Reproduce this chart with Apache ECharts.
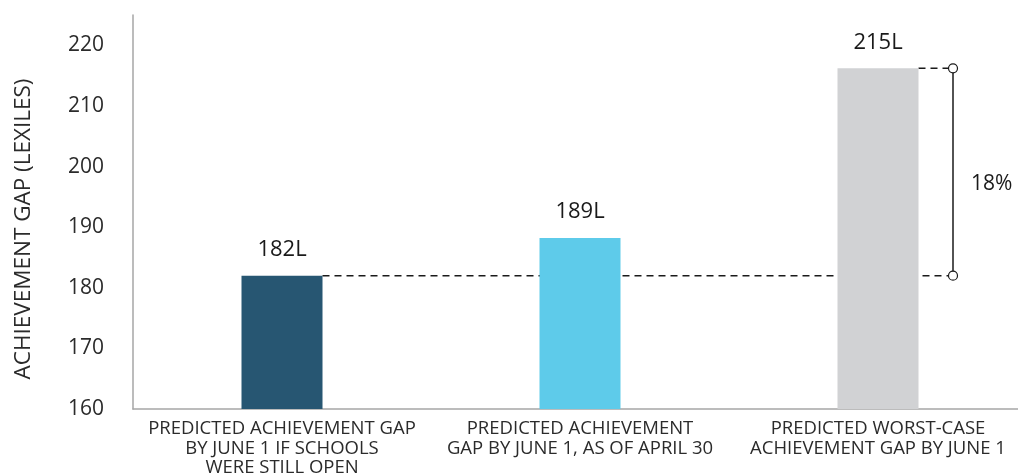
<!DOCTYPE html>
<html>
<head>
<meta charset="utf-8">
<script src="https://cdn.jsdelivr.net/npm/echarts@6/dist/echarts.min.js"></script>
<style>
html,body{margin:0;padding:0;background:#fff;}
#chart{width:1018px;height:475px;}
</style>
</head>
<body>
<div id="chart"></div>
<script>
const categories = [
  'PREDICTED ACHIEVEMENT GAP\nBY JUNE 1 IF SCHOOLS\nWERE STILL OPEN',
  'PREDICTED ACHIEVEMENT\nGAP BY JUNE 1, AS OF APRIL 30',
  'PREDICTED WORST-CASE\nACHIEVEMENT GAP BY JUNE 1'
];
const values = [182, 188.2, 216.2];
const valueLabels = ['182L', '189L', '215L'];
const barColors = ['#275672', '#5ecbea', '#d1d2d4'];
const yTicks = [160, 170, 180, 190, 200, 210, 220];
const yAxisTitle = 'ACHIEVEMENT GAP (LEXILES)';
const gapLabel = '18%';

const FONT = 'Open Sans';
const BAR_W = 81;

const chart = echarts.init(document.getElementById('chart'), null, {renderer: 'canvas'});

chart.setOption({
  animation: false,
  backgroundColor: '#ffffff',
  grid: {left: 133, top: 15, width: 894, bottom: 66, containLabel: false, outerBoundsMode: 'none'},
  xAxis: {
    type: 'category',
    data: categories,
    axisLine: {show: true, lineStyle: {color: '#a6a6a6', width: 1.5}},
    axisTick: {show: false},
    axisLabel: {
      interval: 0,
      margin: 10,
      color: '#2b2b2b',
      fontFamily: FONT,
      fontSize: 18.5,
      lineHeight: 19.5,
      align: 'center'
    }
  },
  yAxis: {
    type: 'value',
    min: 160,
    max: 225,
    interval: 10,
    name: yAxisTitle,
    nameLocation: 'middle',
    nameGap: 98,
    nameRotate: 90,
    nameTextStyle: {color: '#2b2b2b', fontFamily: FONT, fontSize: 22.5, padding: [0, 34, 0, 0]},
    axisLine: {show: true, lineStyle: {color: '#a6a6a6', width: 1.5}},
    axisTick: {show: false},
    splitLine: {show: false},
    axisLabel: {
      margin: 29,
      color: '#2b2b2b',
      fontFamily: FONT,
      fontSize: 21,
      formatter: v => (yTicks.indexOf(v) >= 0 ? String(v) : '')
    }
  },
  series: [
    {
      type: 'custom',
      z: 1,
      silent: true,
      data: [[0, 2, values[0], values[2]]],
      encode: {x: 0, y: 2},
      renderItem: function (params, api) {
        const c0 = api.value(0), c2 = api.value(1);
        const vLow = api.value(2), vHigh = api.value(3);
        const pLow = api.coord([c0, vLow]);
        const pHigh = api.coord([c2, vHigh]);
        const pHighLow = api.coord([c2, vLow]);
        const bx = pHigh[0] + 75;
        const dash = {stroke: '#1a1a1a', lineWidth: 1.5, lineDash: [7, 5]};
        const mid = (pHigh[1] + pLow[1]) / 2;
        return {
          type: 'group',
          children: [
            {type: 'line', shape: {x1: pLow[0] + BAR_W / 2, y1: pLow[1], x2: bx, y2: pLow[1]}, style: dash},
            {type: 'line', shape: {x1: pHigh[0] + BAR_W / 2, y1: pHigh[1], x2: bx, y2: pHigh[1]}, style: dash},
            {type: 'line', shape: {x1: bx, y1: pHigh[1], x2: bx, y2: pHighLow[1]}, style: {stroke: '#1a1a1a', lineWidth: 1.5}},
            {type: 'circle', shape: {cx: bx, cy: pHigh[1], r: 4.5}, style: {fill: '#fff', stroke: '#1a1a1a', lineWidth: 1.2}},
            {type: 'circle', shape: {cx: bx, cy: pHighLow[1], r: 4.5}, style: {fill: '#fff', stroke: '#1a1a1a', lineWidth: 1.2}},
            {type: 'text', x: bx + 18, y: mid + 12, style: {text: gapLabel, fill: '#1a1a1a', font: '21px "' + FONT + '"', textAlign: 'left', textVerticalAlign: 'middle'}}
          ]
        };
      }
    },
    {
      type: 'bar',
      z: 2,
      barWidth: BAR_W,
      data: values.map((v, i) => ({value: v, itemStyle: {color: barColors[i]}})),
      label: {
        show: true,
        position: 'top',
        distance: 15,
        color: '#1a1a1a',
        fontFamily: FONT,
        fontSize: 22,
        formatter: p => valueLabels[p.dataIndex]
      }
    }
  ]
});
</script>
</body>
</html>
